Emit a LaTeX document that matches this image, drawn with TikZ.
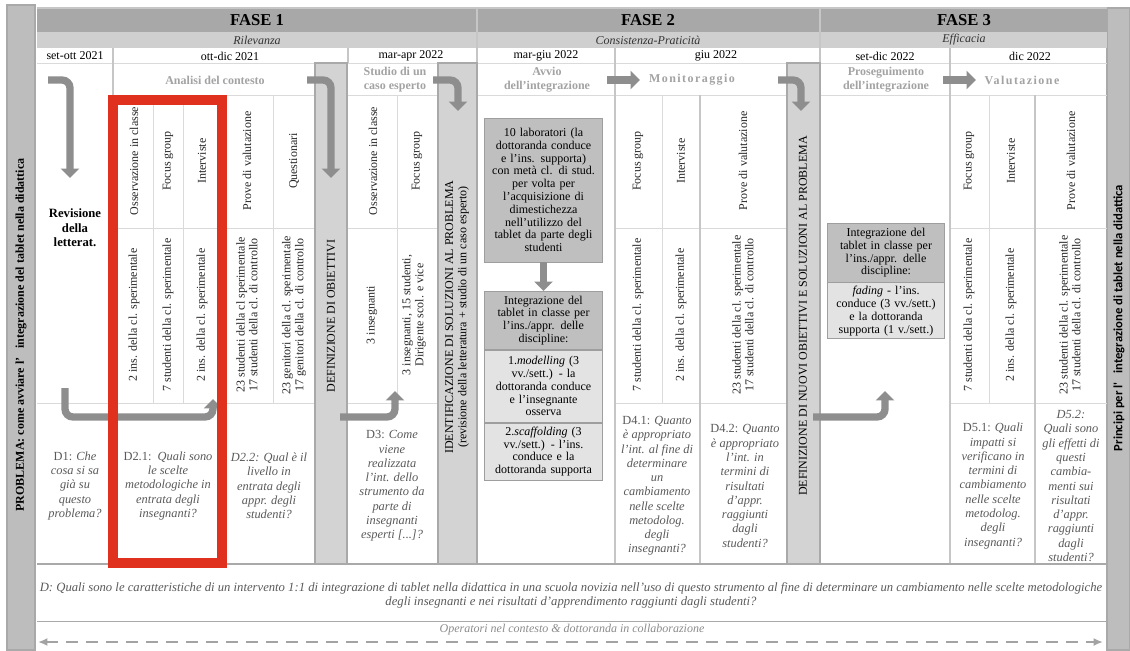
\documentclass[tikz,border=0pt]{standalone}
\usepackage{fontspec}
\setmainfont{Liberation Serif}
\newfontfamily\barsans{Carlito}
\usetikzlibrary{arrows.meta,positioning}

\definecolor{fasegray}{HTML}{A8A8A8}
\definecolor{subgray}{HTML}{CFCFCF}
\definecolor{sidegray}{HTML}{BDBDBD}
\definecolor{bargray}{HTML}{D3D3D3}
\definecolor{barline}{HTML}{A9A9A9}
\definecolor{gridgray}{HTML}{DADADA}
\definecolor{colgray}{HTML}{C6C6C6}
\definecolor{arrgray}{HTML}{8E8E8E}
\definecolor{hdrgray}{HTML}{A3A3A3}
\definecolor{opgray}{HTML}{8C8C8C}
\definecolor{qgray}{HTML}{5A5A5A}
\definecolor{boxdark}{HTML}{BFBFBF}
\definecolor{boxlight}{HTML}{E3E3E3}
\definecolor{boxline}{HTML}{9E9E9E}
\definecolor{markred}{HTML}{E0311F}

\newcommand{\cellsize}{\fontsize{9}{9.6}\selectfont}
\newcommand{\qsize}{\fontsize{9.3}{10.7}\selectfont}

\tikzset{
  vtxt/.style={rotate=90, align=center, inner sep=0pt, font=\cellsize, text=black!85},
  qtxt/.style={align=center, inner sep=0pt, font=\qsize\itshape, text=qgray},
  datetxt/.style={inner sep=0pt, font=\fontsize{9}{10}\selectfont},
  hdrtxt/.style={align=center, inner sep=0pt, font=\fontsize{9}{10.5}\selectfont\bfseries, text=hdrgray},
  bartxt/.style={rotate=90, align=center, inner sep=0pt, font=\fontsize{9}{10}\selectfont},
  gridline/.style={draw=gridgray, line width=0.6pt},
  colline/.style={draw=colgray, line width=1.6pt},
  vbar/.style={fill=bargray, draw=barline, line width=1pt},
  garrow/.style={draw=arrgray, line width=5.5pt, rounded corners=6pt, -{Triangle[width=13.5pt,length=7pt]}},
  boxhead/.style={fill=boxdark, draw=boxline, line width=0.6pt, align=center, text width=84pt, inner xsep=2pt, inner ysep=1.5pt, font=\cellsize},
  boxbody/.style={boxhead, fill=boxlight},
}

\begin{document}
\begin{tikzpicture}[x=0.75pt,y=0.75pt,yscale=-1,xscale=1]
\useasboundingbox (0,0) rectangle (1130,650);
\fill[white] (0,0) rectangle (1130,650);

%Shape: Rectangle [side bars]
\draw[fill=sidegray, draw=barline, line width=0.8pt] (7,5) rectangle (35,650);
\draw[fill=sidegray, draw=barline, line width=0.8pt] (1107,8) rectangle (1130,650);

%Shape: Rectangle [phase rows]
\fill[fasegray] (37,9) rectangle (1107,32);
\fill[subgray] (37,32) rectangle (1107,48);
\draw[colline] (37,8) -- (1107,8);

%Straight Lines [date row]
\draw[gridline] (37,63) -- (1107,63);
\draw[colline] (348,48) -- (348,63);
\draw[colline] (477,9) -- (477,63);
\draw[colline] (820,9) -- (820,63);

%Straight Lines [rows]
\draw[gridline] (113,95) -- (315,95);
\draw[gridline] (348,95) -- (438,95);
\draw[gridline] (477,95) -- (787,95);
\draw[gridline] (820,95) -- (1107,95);
\draw[gridline] (113,228) -- (315,228);
\draw[gridline] (348,228) -- (438,228);
\draw[gridline] (615,228) -- (787,228);
\draw[gridline] (950,228) -- (1107,228);
\draw[gridline] (37,403) -- (315,403);
\draw[gridline] (348,403) -- (438,403);
\draw[gridline] (615,403) -- (787,403);
\draw[gridline] (950,403) -- (1107,403);

%Straight Lines [sub columns]
\draw[gridline] (153,95) -- (153,403);
\draw[gridline] (183,95) -- (183,403);
\draw[gridline] (222,95) -- (222,564);
\draw[gridline] (273,95) -- (273,403);
\draw[gridline] (397,95) -- (397,403);
\draw[gridline] (662,95) -- (662,403);
\draw[gridline] (989,95) -- (989,403);

%Straight Lines [main columns]
\draw[colline] (113,48) -- (113,564);
\draw[colline] (615,48) -- (615,564);
\draw[colline] (950,48) -- (950,564);
\draw[colline] (700,95) -- (700,564);
\draw[colline] (1035,95) -- (1035,564);

%Straight Lines [bottom rows]
\draw[draw=barline, line width=2.2pt] (37,564) -- (1107,564);
\draw[draw=barline, line width=0.7pt] (37,621) -- (1107,621);

%Shape: Rectangle [vertical bars]
\draw[vbar] (315,63) rectangle (347,564);
\draw[vbar] (438,63) rectangle (477,564);
\draw[vbar] (787,63) rectangle (820,564);

% Text Node [phases]
\node[font=\fontsize{12.5}{14}\selectfont\bfseries, inner sep=0pt] (f1) at (257,20) {FASE 1};
\node[font=\fontsize{12.5}{14}\selectfont\bfseries, inner sep=0pt] (f2) at (648,20) {FASE 2};
\node[font=\fontsize{12.5}{14}\selectfont\bfseries, inner sep=0pt] (f3) at (964,20) {FASE 3};
\node[datetxt, font=\fontsize{9}{10}\selectfont\itshape, text=black!80] (rel) at (257,40) {Rilevanza};
\node[datetxt, font=\fontsize{9}{10}\selectfont\itshape, text=black!80] (cons) at (648,40) {Consistenza-Praticità};
\node[datetxt, font=\fontsize{9}{10}\selectfont\itshape, text=black!80] (eff) at (964,40) {Efficacia};

% Text Node [dates]
\node[datetxt] (d1) at (75,56) {set-ott 2021};
\node[datetxt] (d2) at (230,56) {ott-dic 2021};
\node[datetxt] (d3) at (411,56) {mar-apr 2022};
\node[datetxt] (d4) at (546,56) {mar-giu 2022};
\node[datetxt] (d5) at (716,56) {giu 2022};
\node[datetxt] (d6) at (885,56) {set-dic 2022};
\node[datetxt] (d7) at (1030,56) {dic 2022};

% Text Node [stages]
\node[hdrtxt] (h1) at (215,80) {Analisi del contesto};
\node[hdrtxt] (h2) at (395,80) {Studio di un\\caso esperto};
\node[hdrtxt] (h3) at (547,80) {Avvio\\dell'integrazione};
\node[hdrtxt, font=\fontsize{9}{10.5}\selectfont\bfseries\addfontfeatures{LetterSpace=12}] (h4) at (692,80) {Monitoraggio};
\node[hdrtxt] (h5) at (886,80) {Proseguimento\\dell'integrazione};
\node[hdrtxt, font=\fontsize{9}{10.5}\selectfont\bfseries\addfontfeatures{LetterSpace=12}] (h6) at (1022,80) {Valutazione};

% Text Node [tools]
\node[vtxt] (m1) at (134,161) {Osservazione in classe};
\node[vtxt] (m2) at (168,161) {Focus group};
\node[vtxt] (m3) at (202,161) {Interviste};
\node[vtxt] (m4) at (247,161) {Prove di valutazione};
\node[vtxt] (m5) at (294,161) {Questionari};
\node[vtxt] (m6) at (373,161) {Osservazione in classe};
\node[vtxt] (m7) at (417,161) {Focus group};
\node[vtxt] (m8) at (638,161) {Focus group};
\node[vtxt] (m9) at (681,161) {Interviste};
\node[vtxt] (m10) at (743,161) {Prove di valutazione};
\node[vtxt] (m11) at (969,161) {Focus group};
\node[vtxt] (m12) at (1011,161) {Interviste};
\node[vtxt] (m13) at (1071,161) {Prove di valutazione};

% Text Node [samples]
\node[vtxt] (s1) at (134,315) {2 ins. della cl. sperimentale};
\node[vtxt] (s2) at (168,315) {7 studenti della cl. sperimentale};
\node[vtxt] (s3) at (202,315) {2 ins. della cl. sperimentale};
\node[vtxt] (s4) at (247,315) {23 studenti della cl sperimentale\\17 studenti della cl. di controllo};
\node[vtxt] (s5) at (294,315) {23 genitori della cl. sperimentale\\17 genitori della cl. di controllo};
\node[vtxt] (s6) at (372,315) {3 insegnanti};
\node[vtxt] (s7) at (414,315) {3 insegnanti, 15 studenti,\\Dirigente scol. e vice};
\node[vtxt] (s8) at (638,315) {7 studenti della cl. sperimentale};
\node[vtxt] (s9) at (681,315) {2 ins. della cl. sperimentale};
\node[vtxt] (s10) at (743,315) {23 studenti della cl. sperimentale\\17 studenti della cl. di controllo};
\node[vtxt] (s11) at (969,315) {7 studenti della cl. sperimentale};
\node[vtxt] (s12) at (1011,315) {2 ins. della cl. sperimentale};
\node[vtxt] (s13) at (1070,315) {23 studenti della cl. sperimentale\\17 studenti della cl. di controllo};

% Text Node [literature]
\node[font=\fontsize{9.5}{11}\selectfont\bfseries, align=center, inner sep=0pt] (rev) at (75,228) {Revisione\\della\\letterat.};

% Text Node [bars]
\node[bartxt, font=\fontsize{9}{10}\selectfont\bfseries] (prob) at (21,335) {PROBLEMA: come avviare l'\ \ \ integrazione del tablet nella didattica};
\node[bartxt, font=\barsans\fontsize{9.5}{10}\selectfont\bfseries] (princ) at (1119,318) {Principi per l'\ \ \ integrazione di tablet nella didattica};
\node[bartxt] (defob) at (331,316) {DEFINIZIONE DI OBIETTIVI};
\node[bartxt] (idsol) at (457,317) {IDENTIFICAZIONE DI SOLUZIONI AL PROBLEMA\\(revisione della letteratura + studio di un caso esperto)};
\node[bartxt] (defnu) at (803,316) {DEFINIZIONE DI NUOVI OBIETTIVI E SOLUZIONI AL PROBLEMA};

% Text Node [activity boxes]
\node[boxhead, minimum height=108pt] (lab) at (543.5,190) {10 laboratori (la\\dottoranda conduce\\e l'ins. supporta)\\con metà cl. di stud.\\per volta per\\l'acquisizione di\\dimestichezza\\nell'utilizzo del\\tablet da parte degli\\studenti};
\node[boxhead, minimum height=43.5pt, anchor=north] (integ) at (543.5,291) {Integrazione del\\tablet in classe per\\l'ins./appr. delle\\discipline:};
\node[boxbody, minimum height=54pt, below=0pt of integ] (model) {1.\textit{modelling} (3\\vv./sett.) - la\\dottoranda conduce\\e l'insegnante\\osserva};
\node[boxbody, minimum height=42.75pt, below=0pt of model] (scaff) {2.\textit{scaffolding} (3\\vv./sett.) - l'ins.\\conduce e la\\dottoranda supporta};
\node[boxhead, minimum height=44pt, anchor=north] (integb) at (886,223) {Integrazione del\\tablet in classe per\\l'ins./appr. delle\\discipline:};
\node[boxbody, minimum height=42pt, below=0pt of integb] (fade) {\textit{fading} - l'ins.\\conduce (3 vv./sett.)\\e la dottoranda\\supporta (1 v./sett.)};

% Text Node [questions]
\node[qtxt] (q1) at (75,486) {\textup{D1:} Che\\cosa si sa\\già su\\questo\\problema?};
\node[qtxt] (q21) at (168,486) {\textup{D2.1:}\ \ Quali sono\\le scelte\\metodologiche in\\entrata degli\\insegnanti?};
\node[qtxt] (q22) at (269,486) {D2.2: Qual è il\\livello in\\entrata degli\\appr. degli\\studenti?};
\node[qtxt] (q3) at (392,486) {\textup{D3:} Come\\viene\\realizzata\\l'int. dello\\strumento da\\parte di\\insegnanti\\esperti [...]?};
\node[qtxt] (q41) at (657,486) {\textup{D4.1:} Quanto\\è appropriato\\l'int. al fine di\\determinare\\un\\cambiamento\\nelle scelte\\metodolog.\\degli\\insegnanti?};
\node[qtxt] (q42) at (745,486) {\textup{D4.2:} Quanto\\è appropriato\\l'int. in\\termini di\\risultati\\d'appr.\\raggiunti\\dagli\\studenti?};
\node[qtxt] (q51) at (993,486) {\textup{D5.1:} Quali\\impatti si\\verificano in\\termini di\\cambiamento\\nelle scelte\\metodolog.\\degli\\insegnanti?};
\node[qtxt] (q52) at (1071,486) {D5.2:\\Quali sono\\gli effetti di\\questi\\cambia-\\menti sui\\risultati\\d'appr.\\raggiunti\\dagli\\studenti?};

% Text Node [main question]
\node[qtxt, font=\fontsize{9.5}{10.5}\selectfont\itshape] (dq) at (571,595) {D: Quali sono le caratteristiche di un intervento 1:1 di integrazione di tablet nella didattica in una scuola novizia nell'uso di questo strumento al fine di determinare un cambiamento nelle scelte metodologiche\\degli insegnanti e nei risultati d'apprendimento raggiunti dagli studenti?};

% Text Node [collaboration]
\node[qtxt, font=\fontsize{9}{10}\selectfont\itshape, text=opgray] (oper) at (572,630) {Operatori nel contesto \& dottoranda in collaborazione};

%Straight Lines [flow arrows]
\coordinate (a1s) at (48,80);   \coordinate (a1e) at (70,178);
\coordinate (a2s) at (307,80);  \coordinate (a2e) at (331,178);
\coordinate (a3s) at (65,388);  \coordinate (a3e) at (213,399);
\coordinate (a4s) at (340,417); \coordinate (a4e) at (395,391);
\coordinate (a5s) at (433,80);  \coordinate (a5e) at (458,111);
\coordinate (a6s) at (607,80);  \coordinate (a6e) at (640,80);
\coordinate (a7s) at (778,80);  \coordinate (a7e) at (801,111);
\coordinate (a8s) at (943,80);  \coordinate (a8e) at (976,80);
\coordinate (a9s) at (813,417); \coordinate (a9e) at (885,391);
\draw[garrow] (a1s) -| (a1e);
\draw[garrow] (a2s) -| (a2e);
\draw[garrow] (a3s) -- (a3s |- 0,417) -| (a3e);
\draw[garrow] (a4s) -| (a4e);
\draw[garrow] (a5s) -| (a5e);
\draw[garrow] (a6s) -- (a6e);
\draw[garrow] (a7s) -| (a7e);
\draw[garrow] (a8s) -- (a8e);
\draw[garrow] (a9s) -| (a9e);
\draw[garrow, rounded corners=0pt] (lab) -- (integ);

%Straight Lines [collaboration arrow]
\coordinate (opL) at (38,642);
\coordinate (opR) at (1103,642);
\draw[draw=hdrgray, line width=2pt, dash pattern=on 9pt off 6pt, {Latex[length=7pt,width=6pt]}-{Latex[length=7pt,width=6pt]}] (opL) -- (opR);

%Shape: Rectangle [highlight]
\draw[markred, line width=7.5pt] (113,100) rectangle (222,563);

\end{tikzpicture}
\end{document}
